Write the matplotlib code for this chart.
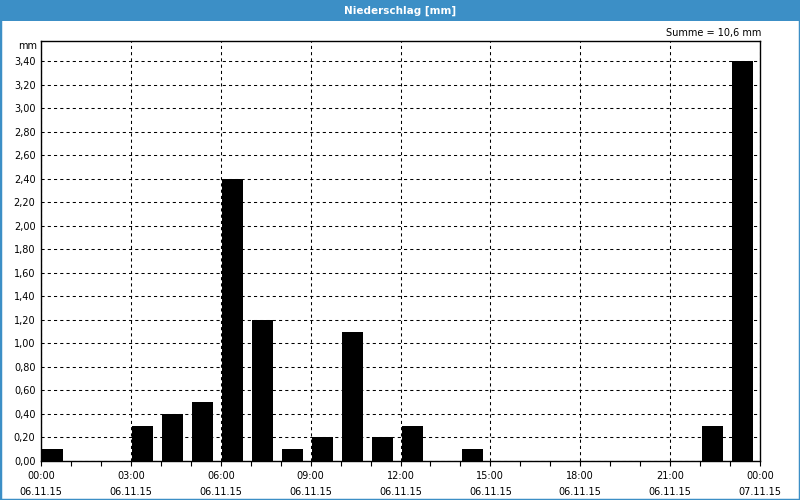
import matplotlib
matplotlib.use('Agg')
import matplotlib.pyplot as plt
from matplotlib.patches import Rectangle
import numpy as np

hours = list(range(24))
rain = [0.1, 0.0, 0.0, 0.3, 0.4, 0.5, 2.4, 1.2, 0.1, 0.2, 1.1, 0.2,
        0.3, 0.0, 0.1, 0.0, 0.0, 0.0, 0.0, 0.0, 0.0, 0.0, 0.3, 3.4]
tick_hours = [0, 3, 6, 9, 12, 15, 18, 21, 24]
tick_labels = ['00:00\n06.11.15', '03:00\n06.11.15', '06:00\n06.11.15',
               '09:00\n06.11.15', '12:00\n06.11.15', '15:00\n06.11.15',
               '18:00\n06.11.15', '21:00\n06.11.15', '00:00\n07.11.15']
y_ticks = np.round(np.arange(0, 3.41, 0.2), 2)

blue = '#3c8fc6'
plt.rcParams['font.family'] = 'DejaVu Sans'

fig = plt.figure(figsize=(8, 5), dpi=100)
ax = fig.add_axes([41 / 800, 1 - 461 / 500, (760 - 41) / 800, (461 - 40.5) / 500])

# title bar and border
fig.patches.append(Rectangle((0, 1 - 21 / 500), 1, 21 / 500, transform=fig.transFigure,
                             facecolor=blue, edgecolor='none', zorder=0))
fig.patches.append(Rectangle((0, 0), 1, 1, transform=fig.transFigure,
                             facecolor='none', edgecolor=blue, lw=2.5, zorder=5))
fig.text(0.5, 1 - 10.5 / 500, 'Niederschlag [mm]', color='white', fontsize=7.5,
         fontweight='bold', ha='center', va='center')
fig.text(761 / 800, 1 - 33 / 500, 'Summe = 10,6 mm', fontsize=7, ha='right', va='center')
fig.text(37 / 800, 1 - 46 / 500, 'mm', fontsize=7, ha='right', va='center')

ax.bar([h + 0.4 for h in hours], rain, width=0.7, color='black', zorder=3)

ax.set_xlim(0, 24)
ax.set_ylim(0, 3.576)
ax.set_xticks(tick_hours)
ax.set_xticklabels(tick_labels, fontsize=7, linespacing=1.75)
ax.set_xticks(range(25), minor=True)
ax.set_yticks(y_ticks)
ax.set_yticklabels([('%.2f' % v).replace('.', ',') for v in y_ticks], fontsize=7)
ax.tick_params(axis='x', which='both', direction='out', length=3.5, width=0.8, pad=4)
ax.tick_params(axis='y', length=0, pad=4)

ax.grid(True, color='black', linestyle=(0, (3, 3)), linewidth=0.75, zorder=1)
ax.set_axisbelow(True)
for s in ax.spines.values():
    s.set_linewidth(1.0)

fig.savefig('out.png', dpi=100)
